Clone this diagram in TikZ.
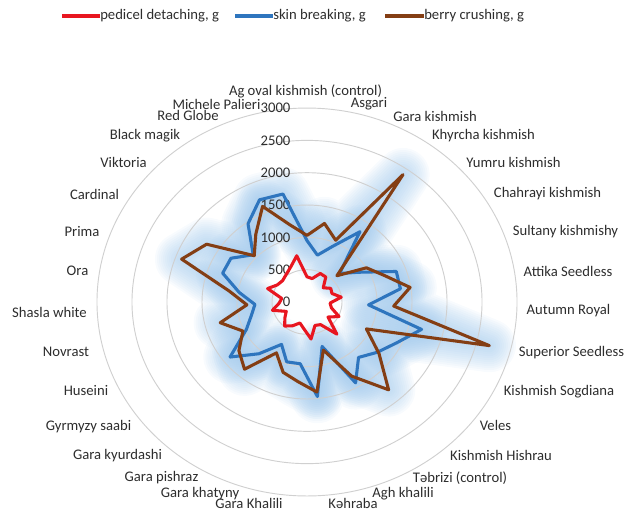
\documentclass[tikz,border=0pt]{standalone}
\usepackage{fontspec}
\setmainfont{Carlito}
\usepackage{tikz}
\usetikzlibrary{positioning}

\definecolor{pedred}{RGB}{232,22,32}
\definecolor{skinblue}{RGB}{46,117,190}
\definecolor{berrybrown}{RGB}{132,62,20}
\definecolor{glowblue}{RGB}{160,200,236}
\definecolor{ringgray}{RGB}{208,208,208}
\definecolor{lbltext}{RGB}{45,45,45}

\newcommand{\lblfont}{\fontsize{11}{13}\selectfont}
\newcommand{\pedicelvals}{390,370,480,470,320,400,380,495,330,360,510,380,655,400,380,575,420,340,420,490,400,330,510,400,365,600,500,480,520,590,730}
\newcommand{\skinvals}{950,740,940,1325,640,870,1360,1350,880,1690,1430,1270,1130,1430,720,1470,960,970,750,1055,1390,965,820,745,980,1285,1280,1060,1475,1720,1705}
\newcommand{\berryvals}{1030,1240,1040,2400,590,1000,1180,1490,1240,2690,945,1300,1790,1310,780,1400,1240,1140,900,1370,1230,1020,1280,860,1125,1910,1690,1040,1280,1610,1220}

\tikzset{
  series/.style={line width=2.3pt, line join=round},
  pedline/.style={series, draw=pedred},
  skinline/.style={series, draw=skinblue},
  berryline/.style={series, draw=berrybrown},
  glow/.style={draw=glowblue, line join=round, line cap=round},
  ring/.style={draw=ringgray, line width=0.7pt},
  catlbl/.style={font=\lblfont, text=lbltext, inner sep=0pt},
  axislbl/.style={catlbl, anchor=east, inner sep=1pt},
}

\begin{document}
\begin{tikzpicture}[x=0.75pt, y=-0.75pt]
  \useasboundingbox (0,0) rectangle (627,511);

  % legend
  \node[catlbl, anchor=west] (legped) at (100,16) {pedicel detaching, g};
  \node[catlbl, anchor=west] (legskin) at (273,16) {skin breaking, g};
  \node[catlbl, anchor=west] (legberry) at (424,16) {berry crushing, g};
  \coordinate (legpedl) at (62,16);
  \coordinate (legskinl) at (235,16);
  \coordinate (legberryl) at (385,16);
  \draw[pedline] (legpedl) -- (legped.west);
  \draw[skinline] (legskinl) -- (legskin.west);
  \draw[berryline] (legberryl) -- (legberry.west);

  \begin{scope}[shift={(307,302)}, x=0.0525pt, y=0.0485pt]
    % data points, clockwise from the top
    \foreach \v [count=\k from 0] in \pedicelvals
      \coordinate (p\k) at ({90-\k*360/31}:\v);
    \foreach \v [count=\k from 0] in \skinvals
      \coordinate (s\k) at ({90-\k*360/31}:\v);
    \foreach \v [count=\k from 0] in \berryvals
      \coordinate (b\k) at ({90-\k*360/31}:\v);

    % soft glow round the two outer series
    \foreach \w in {4,7,...,40} {
      \draw[glow, line width=\w pt, opacity=0.07] (s0) \foreach \k in {1,...,30} {-- (s\k)} -- cycle;
      \draw[glow, line width=\w pt, opacity=0.07] (b0) \foreach \k in {1,...,30} {-- (b\k)} -- cycle;
    }

    \foreach \r in {500,1000,...,3000}
      \draw[ring] (0,0) circle [radius=\r];
  \end{scope}

  % value axis
  \foreach \r in {0,500,...,3000}
    \node[axislbl] (ax\r) at (292,{302-\r/3000*194}) {\r};

  % series
  \draw[pedline] (p0) \foreach \k in {1,...,30} {-- (p\k)} -- cycle;
  \draw[skinline] (s0) \foreach \k in {1,...,30} {-- (s\k)} -- cycle;
  \draw[berryline] (b0) \foreach \k in {1,...,30} {-- (b\k)} -- cycle;

  % category labels
  \foreach \x/\y/\t [count=\i from 0] in {
      305.5/91/Ag oval kishmish (control), 369/104/Asgari, 435/116/Gara kishmish,
      483.5/136/Khyrcha kishmish, 513.5/162/Yumru kishmish, 547.5/194/Chahrayi kishmish,
      565.5/232/Sultany kishmishy, 568/271/Attika Seedless, 568.5/311/Autumn Royal,
      571.5/353/Superior Seedless, 559/392/Kishmish Sogdiana, 495.5/425/Veles,
      501/455/Kishmish Hishrau, 460/478/Təbrizi (control), 403/494/Agh khalili,
      353/503/Kəhraba, 249/503/Gara Khalili, 200/494/Gara khatyny,
      161.5/478/Gara pishraz, 117.5/456/Gara kyurdashi, 88.5/427/Gyrmyzy saabi,
      86/390/Huseini, 66/352/Novrast, 49.5/312/Shasla white,
      77.5/271/Ora, 82/232/Prima, 94.5/194/Cardinal,
      123.5/162/Viktoria, 145/136/Black magik, 188/115/Red Globe,
      216.5/104/Michele Palieri}
    \node[catlbl] (cat\i) at (\x,\y) {\t};
\end{tikzpicture}
\end{document}
